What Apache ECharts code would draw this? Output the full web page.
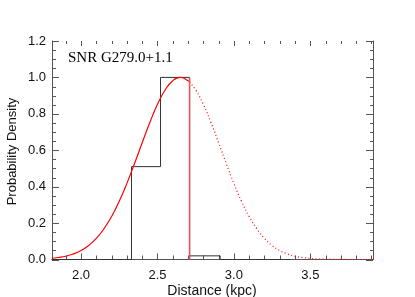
<!DOCTYPE html>
<html><head><meta charset="utf-8">
<script src="https://cdn.jsdelivr.net/npm/echarts@6/dist/echarts.min.js"></script>
<style>html,body{margin:0;padding:0;background:#fff}#c{width:415px;height:297px}</style>
</head><body><div id="c"></div>
<script>
// Histogram
const binEdges = [2.33, 2.52, 2.71, 2.91];
const binValues = [0.51, 1.00, 0.02];
const baselineRange = [1.81, 3.37];
// Fitted curve (solid part, up to cutoff)
const curveSolidX = [1.81,1.85,1.90,1.95,2.00,2.05,2.10,2.15,2.20,2.25,2.30,2.35,2.40,2.45,2.50,2.55,2.60,2.65,2.70,2.71];
const curveSolidY = [0.007,0.011,0.018,0.031,0.049,0.077,0.116,0.169,0.236,0.320,0.418,0.527,0.641,0.752,0.852,0.931,0.982,1.000,0.982,0.975];
// Fitted curve (dotted part, beyond cutoff)
const curveDotX = [2.71,2.75,2.80,2.85,2.90,2.95,3.00,3.05,3.10,3.15,3.20,3.25,3.30,3.35,3.40,3.45,3.50,3.55,3.60,3.70,3.80,3.91];
const curveDotY = [0.975,0.931,0.852,0.752,0.641,0.527,0.418,0.320,0.236,0.169,0.116,0.077,0.049,0.031,0.018,0.011,0.006,0.003,0.002,0.0004,0,0];
const cutoff = 2.71;
const cutoffTop = 1.0;
const xTicks = [2.0, 2.5, 3.0, 3.5];
const xMinor = [1.9,2.1,2.2,2.3,2.4,2.6,2.7,2.8,2.9,3.1,3.2,3.3,3.4,3.6,3.7,3.8,3.9];
const yTicks = [0.0, 0.2, 0.4, 0.6, 0.8, 1.0, 1.2];
const yMinor = [0.05,0.1,0.15,0.25,0.3,0.35,0.45,0.5,0.55,0.65,0.7,0.75,0.85,0.9,0.95,1.05,1.1,1.15];
const xRange = [1.81, 3.91];
const yRange = [0, 1.2];

const histPts = [[baselineRange[0],0]];
for (let i=0;i<binValues.length;i++){
  const prev = i===0?0:binValues[i-1];
  histPts.push([binEdges[i],prev]);
  histPts.push([binEdges[i],binValues[i]]);
}
histPts.push([binEdges[binEdges.length-1],binValues[binValues.length-1]]);
histPts.push([binEdges[binEdges.length-1],0]);
histPts.push([baselineRange[1],0]);

const axisCol = '#555';
const lab = {fontFamily:'Liberation Sans', fontSize:13, color:'#111'};
function xa(pos, labels){
  return {type:'value', position:pos, min:xRange[0], max:xRange[1],
    axisLine:{show:true, lineStyle:{color:axisCol, width:1}},
    axisTick:{show:false},
    axisLabel:labels?Object.assign({show:true, customValues:xTicks, margin:9, formatter:v=>v.toFixed(1)},lab):{show:false},
    splitLine:{show:false}};
}
function ya(pos, labels){
  return {type:'value', position:pos, min:yRange[0], max:yRange[1],
    axisLine:{show:true, lineStyle:{color:axisCol, width:1}},
    axisTick:{show:false},
    axisLabel:labels?Object.assign({show:true, customValues:yTicks, margin:6, formatter:v=>v.toFixed(1)},lab):{show:false},
    splitLine:{show:false}};
}
const px = v => Math.round(v) + 0.5;
function tickSeries(vals, isX, lenA, lenB){
  return {type:'custom', silent:true, z:1, clip:false,
    data: vals.map(v => isX ? [v, yRange[0]] : [xRange[0], v]),
    renderItem: function(params, api){
      const v = isX ? api.value(0) : api.value(1);
      let a, b;
      if (isX){ a = api.coord([v, yRange[0]]); b = api.coord([v, yRange[1]]); }
      else { a = api.coord([xRange[0], v]); b = api.coord([xRange[1], v]); }
      const st = {stroke: axisCol, lineWidth:1};
      if (isX){
        const x = px(a[0]);
        return {type:'group', children:[
          {type:'line', shape:{x1:x, y1:a[1], x2:x, y2:a[1]-lenA}, style:st},
          {type:'line', shape:{x1:x, y1:b[1], x2:x, y2:b[1]+lenB}, style:st}
        ]};
      } else {
        const y = px(a[1]);
        return {type:'group', children:[
          {type:'line', shape:{x1:a[0], y1:y, x2:a[0]+lenA, y2:y}, style:st},
          {type:'line', shape:{x1:b[0], y1:y, x2:b[0]-lenB, y2:y}, style:st}
        ]};
      }
    }
  };
}
const chart = echarts.init(document.getElementById('c'), null, {renderer:'canvas'});
chart.setOption({
  animation:false,
  backgroundColor:'#fff',
  grid:{left:52, right:42, top:41, bottom:37.5},
  xAxis:[xa('bottom', true), xa('top', false)],
  yAxis:[ya('left', true), ya('right', false)],
  graphic:[
    {type:'text', left:68, top:51, style:{text:'SNR G279.0+1.1', font:'15px "Liberation Serif"', fill:'#000'}},
    {type:'text', x:212, y:291, style:{text:'Distance (kpc)', font:'14px "Liberation Sans"', fill:'#111', align:'center', verticalAlign:'middle'}},
    {type:'text', x:12.5, y:151.5, rotation:Math.PI/2, style:{text:'Probability Density', font:'13px "Liberation Sans"', fill:'#111', align:'center', verticalAlign:'middle'}}
  ],
  series:[
    tickSeries(xTicks, true, 6, 5),
    tickSeries(xMinor, true, 4, 3),
    tickSeries(yTicks, false, 7, 7),
    tickSeries(yMinor, false, 4, 3),
    {type:'line', data:histPts, symbol:'none', lineStyle:{color:'#333', width:1}, z:2},
    {type:'line', data:curveDotX.map((x,i)=>[x,curveDotY[i]]), symbol:'none', smooth:true, lineStyle:{color:'#ff0000', width:1.2, type:[1,2.5]}, z:3},
    {type:'line', data:curveSolidX.map((x,i)=>[x,curveSolidY[i]]), symbol:'none', smooth:true, lineStyle:{color:'#ff0000', width:1.2}, z:4},
    {type:'line', data:[[cutoff,0],[cutoff,cutoffTop]], symbol:'none', lineStyle:{color:'#f05050', width:1.5}, z:5}
  ]
});
</script></body></html>
